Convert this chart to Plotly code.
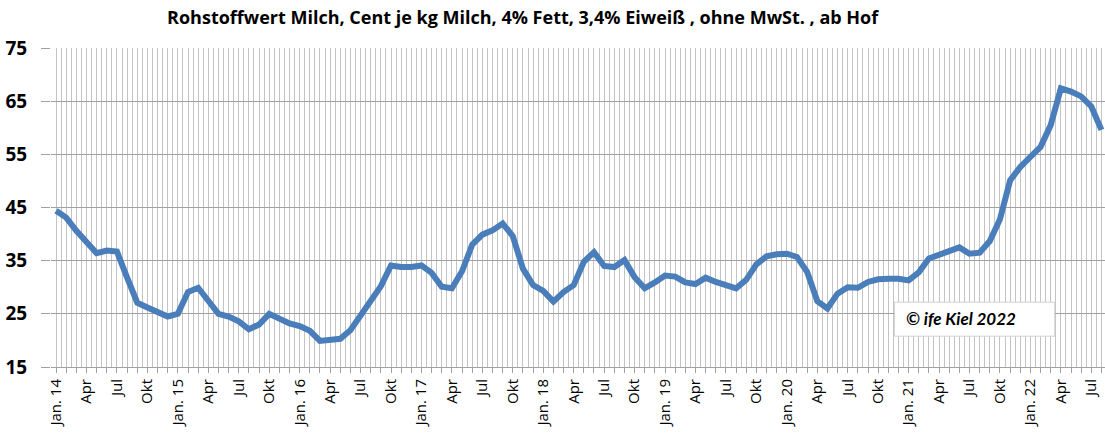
import plotly.graph_objects as go

# Monthly raw-material value of milk (Cent/kg), Jan 2014 .. Aug 2022
values = [
    44.4, 43.1, 40.6, 38.3, 36.4, 36.9, 36.7, 31.8, 27.1, 26.2, 25.2, 24.5,   # 2014
    25.0, 29.1, 29.9, 27.6, 25.0, 24.5, 23.6, 22.1, 23.0, 25.0, 24.0, 23.2,   # 2015
    22.7, 21.8, 19.9, 20.0, 20.3, 21.9, 24.6, 27.2, 30.2, 34.1, 33.8, 33.8,   # 2016
    34.1, 32.7, 30.1, 29.8, 33.0, 38.0, 39.9, 40.7, 42.0, 39.6, 33.5, 30.4,   # 2017
    29.3, 27.3, 29.1, 30.4, 34.8, 36.6, 34.0, 33.8, 35.1, 31.9, 29.8, 30.9,   # 2018
    32.2, 32.0, 30.9, 30.6, 31.8, 31.0, 30.4, 29.8, 31.4, 34.3, 35.8, 36.2,   # 2019
    36.3, 35.7, 32.9, 27.4, 26.0, 28.8, 30.0, 29.9, 31.0, 31.5, 31.6, 31.6,   # 2020
    31.3, 32.8, 35.4, 36.1, 36.9, 37.5, 36.3, 36.5, 38.7, 42.8, 50.1, 52.6,   # 2021
    54.5, 56.4, 60.5, 67.4, 66.8, 65.9, 64.0, 59.6,                           # 2022
]
month_index = list(range(len(values)))

tick_labels = [
    "Jan. 14", "Apr", "Jul", "Okt",
    "Jan. 15", "Apr", "Jul", "Okt",
    "Jan. 16", "Apr", "Jul", "Okt",
    "Jan. 17", "Apr", "Jul", "Okt",
    "Jan. 18", "Apr", "Jul", "Okt",
    "Jan. 19", "Apr", "Jul", "Okt",
    "Jan. 20", "Apr", "Jul", "Okt",
    "Jan. 21", "Apr", "Jul", "Okt",
    "Jan. 22", "Apr", "Jul",
]
y_ticks = [15, 25, 35, 45, 55, 65, 75]

title_text = "Rohstoffwert Milch, Cent je kg Milch, 4% Fett, 3,4% Eiweiß , ohne MwSt. , ab Hof"
credit_text = "© ife Kiel 2022"

tickvals = month_index
ticktext = []
for m in month_index:
    if m % 3 == 0 and m // 3 < len(tick_labels):
        ticktext.append(tick_labels[m // 3])
    else:
        ticktext.append("")

FONT = "'Open Sans', Lato, sans-serif"

fig = go.Figure()
fig.add_trace(go.Scatter(
    x=month_index, y=values, mode="lines",
    line=dict(color="#4a7ebb", width=6, shape="linear"),
    hoverinfo="skip", showlegend=False,
))

fig.update_layout(
    width=1105, height=434,
    margin=dict(l=51, r=0, t=48, b=67),
    paper_bgcolor="white", plot_bgcolor="white",
    font=dict(family=FONT, color="black"),
    title=dict(
        text="<b>" + title_text + "</b>",
        x=0.473, xanchor="center", y=1 - 18 / 434, yanchor="middle",
        font=dict(family=FONT, size=18, color="black"),
    ),
    xaxis=dict(
        range=[-0.5, 103.35], automargin=False,
        tickmode="array", tickvals=tickvals, ticktext=ticktext,
        tickangle=-90, ticks="outside", ticklen=5, tickcolor="#a0a0a0",
        tickfont=dict(family=FONT, size=15, color="black"),
        showgrid=False, zeroline=False,
        showline=True, linecolor="#a0a0a0", linewidth=1,
        minor=dict(tickmode="linear", tick0=-0.5, dtick=0.5,
                   showgrid=True, gridcolor="#c4c4c4", gridwidth=1, ticks=""),
    ),
    yaxis=dict(
        range=[15, 75], tickmode="array", tickvals=y_ticks, automargin=False,
        ticks="outside", ticklen=9, tickcolor="#a0a0a0",
        ticklabelstandoff=10,
        tickfont=dict(family=FONT, size=19, color="black", weight="bold"),
        showgrid=True, gridcolor="#a0a0a0", gridwidth=1,
        zeroline=False, showline=False,
    ),
)

fig.add_shape(type="rect", xref="x", yref="y",
              x0=82.6, x1=98.4, y0=20.8, y1=27.2,
              fillcolor="white", line=dict(color="#d0d0d0", width=1),
              layer="above")
fig.add_annotation(x=89.2, y=24.2, xref="x", yref="y",
                   text="<b><i>" + credit_text + "</i></b>",
                   showarrow=False, xanchor="center", yanchor="middle",
                   font=dict(family="Lato, sans-serif", size=17, color="black"))

fig.write_html(
    "out.html",
    config={"displayModeBar": False, "staticPlot": True},
    post_script="document.body.style.margin='0';document.body.style.overflow='hidden';",
)
